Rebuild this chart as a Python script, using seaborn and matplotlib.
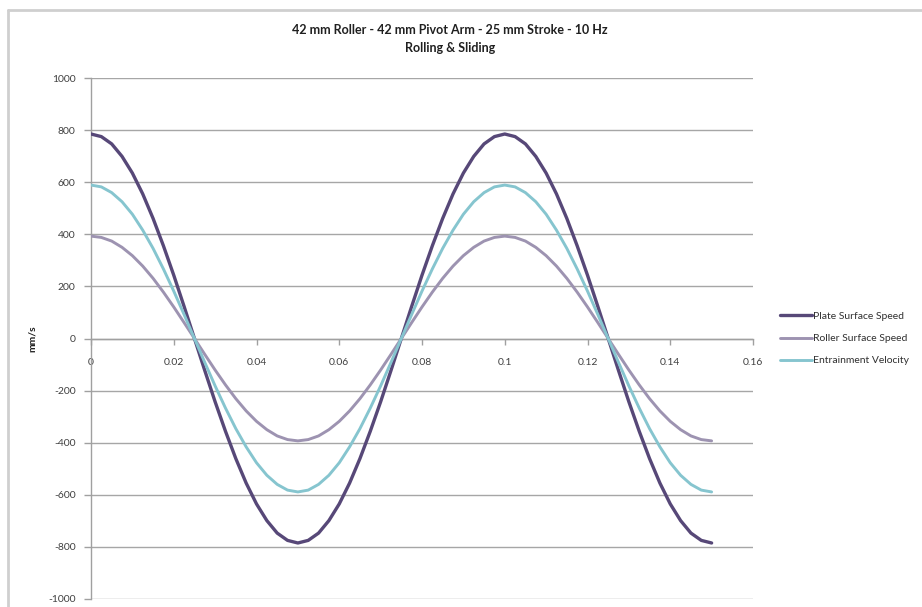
import numpy as np
import pandas as pd
import matplotlib
matplotlib.use("Agg")
import matplotlib.pyplot as plt
import seaborn as sns

# ---- data ----
time_s = [0.0000, 0.0025, 0.0050, 0.0075, 0.0100, 0.0125, 0.0150, 0.0175, 0.0200, 0.0225,
          0.0250, 0.0275, 0.0300, 0.0325, 0.0350, 0.0375, 0.0400, 0.0425, 0.0450, 0.0475,
          0.0500, 0.0525, 0.0550, 0.0575, 0.0600, 0.0625, 0.0650, 0.0675, 0.0700, 0.0725,
          0.0750, 0.0775, 0.0800, 0.0825, 0.0850, 0.0875, 0.0900, 0.0925, 0.0950, 0.0975,
          0.1000, 0.1025, 0.1050, 0.1075, 0.1100, 0.1125, 0.1150, 0.1175, 0.1200, 0.1225,
          0.1250, 0.1275, 0.1300, 0.1325, 0.1350, 0.1375, 0.1400, 0.1425, 0.1450, 0.1475,
          0.1500]
plate_speed = [785, 775, 747, 699, 635, 555, 461, 356, 243, 123,
               0, -123, -243, -356, -461, -555, -635, -699, -747, -775,
               -785, -775, -747, -699, -635, -555, -461, -356, -243, -123,
               0, 123, 243, 356, 461, 555, 635, 699, 747, 775,
               785, 775, 747, 699, 635, 555, 461, 356, 243, 123,
               0, -123, -243, -356, -461, -555, -635, -699, -747, -775,
               -785]
roller_speed = [393, 388, 374, 350, 318, 278, 231, 178, 121, 61,
                0, -61, -121, -178, -231, -278, -318, -350, -374, -388,
                -393, -388, -374, -350, -318, -278, -231, -178, -121, -61,
                0, 61, 121, 178, 231, 278, 318, 350, 374, 388,
                393, 388, 374, 350, 318, 278, 231, 178, 121, 61,
                0, -61, -121, -178, -231, -278, -318, -350, -374, -388,
                -393]
entrainment = [589, 582, 560, 525, 477, 416, 346, 267, 182, 92,
               0, -92, -182, -267, -346, -416, -477, -525, -560, -582,
               -589, -582, -560, -525, -477, -416, -346, -267, -182, -92,
               0, 92, 182, 267, 346, 416, 477, 525, 560, 582,
               589, 582, 560, 525, 477, 416, 346, 267, 182, 92,
               0, -92, -182, -267, -346, -416, -477, -525, -560, -582,
               -589]
series_names = ["Plate Surface Speed", "Roller Surface Speed", "Entrainment Velocity"]
x_ticks = [0, 0.02, 0.04, 0.06, 0.08, 0.1, 0.12, 0.14, 0.16]
x_tick_labels = ["0", "0.02", "0.04", "0.06", "0.08", "0.1", "0.12", "0.14", "0.16"]
y_ticks = [-1000, -800, -600, -400, -200, 0, 200, 400, 600, 800, 1000]
title = "42 mm Roller - 42 mm Pivot Arm - 25 mm Stroke - 10 Hz\nRolling & Sliding"
y_label = "mm/s"

df = pd.concat([
    pd.DataFrame({"t": time_s, "v": plate_speed, "series": series_names[0]}),
    pd.DataFrame({"t": time_s, "v": roller_speed, "series": series_names[1]}),
    pd.DataFrame({"t": time_s, "v": entrainment, "series": series_names[2]}),
])

sns.set_theme(style="white")
plt.rcParams["font.family"] = ["Lato", "DejaVu Sans"]

colors = {series_names[0]: "#574878",
          series_names[1]: "#9d93b1",
          series_names[2]: "#86c5cf"}
widths = {series_names[0]: 2.4, series_names[1]: 2.1, series_names[2]: 2.1}

fig = plt.figure(figsize=(9.22, 6.07), dpi=100)
ax = fig.add_axes([91/922, 1 - 599/607, (753-91)/922, (599-78)/607])

for name in series_names:
    sub = df[df["series"] == name]
    sns.lineplot(data=sub, x="t", y="v", ax=ax, color=colors[name],
                 linewidth=widths[name], label=name, zorder=3, estimator=None,
                 sort=False)

ax.set_xlim(0, 0.16)
ax.set_ylim(-1000, 1000)
ax.set_yticks(y_ticks)
ax.set_yticklabels([str(v) for v in y_ticks])
ax.set_xticks(x_ticks)
ax.set_xticklabels(x_tick_labels)
ax.grid(axis="y", color="#a6a6a6", linewidth=1.0)
ax.grid(axis="x", visible=False)
ax.set_axisbelow(True)

for s in ["top", "right"]:
    ax.spines[s].set_visible(False)
ax.spines["left"].set_color("#a0a0a0")
ax.spines["left"].set_linewidth(1.0)
ax.spines["bottom"].set_position(("data", 0))
ax.spines["bottom"].set_color("#a0a0a0")
ax.spines["bottom"].set_linewidth(1.0)

ax.tick_params(axis="y", direction="out", length=5, width=1, color="#a0a0a0",
               labelsize=7.5, labelcolor="#404040", pad=6, left=True)
ax.tick_params(axis="x", direction="out", length=4, width=1, color="#a0a0a0",
               labelsize=7.5, labelcolor="#404040", pad=10, bottom=True)

ax.set_xlabel("")
ax.set_ylabel(y_label, fontsize=7.5, fontweight="bold", color="#202020", labelpad=8)

fig.text(450/922, 1 - 30/607, "42 mm Roller - 42 mm Pivot Arm - 25 mm Stroke - 10 Hz",
         ha="center", va="center", fontsize=9, fontweight="bold", color="#202020")
fig.text(450/922, 1 - 48/607, "Rolling & Sliding",
         ha="center", va="center", fontsize=9, fontweight="bold", color="#202020")

leg = ax.legend(loc="center left", bbox_to_anchor=(1.035, 0.5), frameon=False,
                fontsize=7.5, handlelength=3.0, handletextpad=0.1,
                labelspacing=1.25, borderaxespad=0)
for t in leg.get_texts():
    t.set_color("#303030")

# outer chart border (top and left visible)
fig.add_artist(plt.Line2D([8/922, 1], [1 - 10/607, 1 - 10/607],
                          transform=fig.transFigure, color="#cfcfcf", linewidth=2))
fig.add_artist(plt.Line2D([8/922, 8/922], [0, 1 - 10/607],
                          transform=fig.transFigure, color="#cfcfcf", linewidth=2))

fig.savefig("out.png", dpi=100)
